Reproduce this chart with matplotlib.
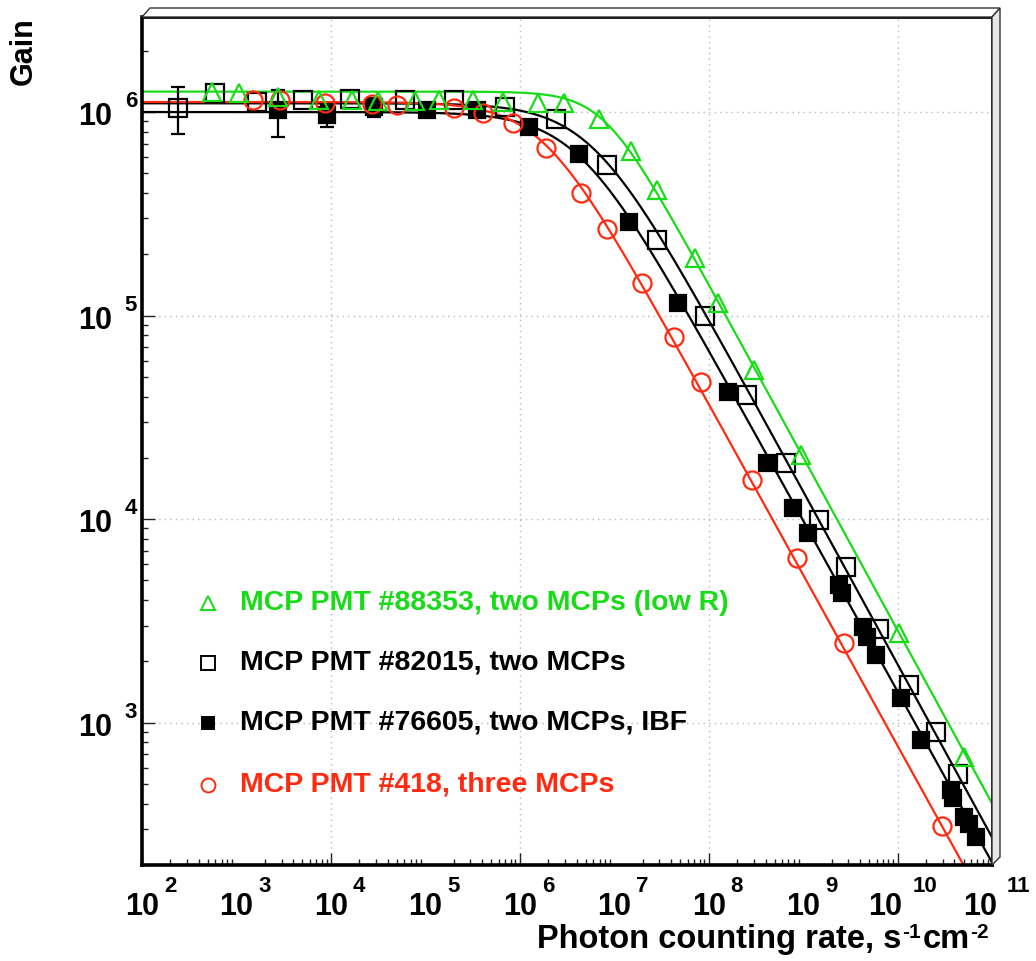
"""
Gain vs photon counting rate for several MCP PMTs, log-log, ROOT-like style.
Saves out.png
"""

import numpy as np
import matplotlib
matplotlib.use("Agg")
import matplotlib.pyplot as plt
from matplotlib.patches import Polygon
from matplotlib.lines import Line2D

plt.rcParams["font.family"] = ["Liberation Sans", "DejaVu Sans"]
plt.rcParams["font.weight"] = "bold"

W, H = 1036, 961

GREEN = "#18dc18"
RED = "#ff2a10"
BLACK = "black"

# ── measured points (rate in s^-1 cm^-2, gain) ───────────────────────────────
green_rate = [552, 1070, 2770, 7500, 1.69e4, 3.19e4, 7.86e4, 1.38e5, 3.16e5,
              6.57e5, 1.55e6, 2.92e6, 6.86e6, 1.50e7, 2.83e7, 7.14e7, 1.25e8,
              3.02e8, 9.5e8, 1.04e10, 5.08e10]
green_gain = [1.25e6, 1.24e6, 1.19e6, 1.15e6, 1.15e6, 1.13e6, 1.13e6, 1.15e6,
              1.15e6, 1.12e6, 1.11e6, 1.11e6, 9.24e5, 6.43e5, 4.14e5, 1.92e5,
              1.15e5, 5.39e4, 2.06e4, 2.75e3, 676]

open_rate = [241, 594, 1660, 5090, 1.61e4, 6.15e4, 1.99e5, 7.06e5, 2.40e6,
             8.32e6, 2.83e7, 9.12e7, 2.54e8, 6.59e8, 1.48e9, 2.85e9, 6.38e9,
             1.33e10, 2.56e10, 4.40e10]
open_gain = [1.05e6, 1.24e6, 1.12e6, 1.15e6, 1.16e6, 1.15e6, 1.15e6, 1.06e6,
             9.24e5, 5.50e5, 2.35e5, 9.95e4, 4.07e4, 1.88e4, 9.88e3, 5.81e3,
             2.88e3, 1.53e3, 898, 558]
open_err = [2.7e5] + [0] * 19

filled_rate = [2770, 9160, 2.88e4, 1.03e5, 3.56e5, 1.24e6, 4.21e6, 1.43e7,
               4.71e7, 1.60e8, 4.14e8, 7.81e8, 1.13e9, 2.40e9, 2.59e9, 4.32e9,
               4.76e9, 5.93e9, 1.09e10, 1.78e10, 3.70e10, 3.89e10, 5.08e10,
               5.74e10, 6.81e10]
filled_gain = [1.02e6, 9.66e5, 1.06e6, 1.02e6, 1.02e6, 8.44e5, 6.22e5, 2.88e5,
               1.15e5, 4.21e4, 1.88e4, 1.13e4, 8.53e3, 4.74e3, 4.33e3, 2.94e3,
               2.63e3, 2.15e3, 1.32e3, 820, 466, 426, 344, 317, 274]
filled_err = [2.7e5, 1.2e5, 1.1e5] + [0] * 22

red_rate = [1500, 2900, 8730, 2.75e4, 5.06e4, 1.99e5, 4.04e5, 8.39e5, 1.88e6,
            4.42e6, 8.32e6, 1.96e7, 4.28e7, 8.27e7, 2.87e8, 8.61e8, 2.71e9,
            2.97e10]
red_gain = [1.15e6, 1.15e6, 1.11e6, 1.09e6, 1.08e6, 1.05e6, 9.9e5, 8.83e5,
            6.65e5, 4.0e5, 2.66e5, 1.44e5, 7.84e4, 4.71e4, 1.56e4, 6.43e3,
            2.46e3, 310]

# fit: G = G0 * (1 + (R/Rc)^a)^(-p/a)
green_fit = [1.26e6, 7.71e6, 0.85, 1.8]
open_fit = [1.104e6, 5.73e6, 0.85, 1.2]
filled_fit = [1.0e6, 4.09e6, 0.84, 1.2]
red_fit = [1.12e6, 1.72e6, 0.84, 1.3]

labels = ["MCP PMT #88353, two MCPs (low R)",
          "MCP PMT #82015, two MCPs",
          "MCP PMT #76605, two MCPs, IBF",
          "MCP PMT #418, three MCPs"]


def fit_curve(r, par):
    g0, rc, p, a = par
    return g0 * (1.0 + (r / rc) ** a) ** (-p / a)


def px(x, y):
    return (x / W, 1 - y / H)


fig = plt.figure(figsize=(W / 100, H / 100), dpi=100, facecolor="white")

# 3D frame border (top + right bevel)
fig.patches.append(Polygon([px(142, 17), px(150, 8), px(1000, 8), px(992, 17)],
                           closed=True, transform=fig.transFigure,
                           facecolor="white", edgecolor="#333333", lw=1.0))
fig.patches.append(Polygon([px(992, 17), px(1000, 8), px(1000, 857), px(992, 865)],
                           closed=True, transform=fig.transFigure,
                           facecolor="#e6e6e6", edgecolor="#333333", lw=1.0))

l, b = px(142, 865)
r, t = px(992, 17)
ax = fig.add_axes([l, b, r - l, t - b])
ax.set_xscale("log")
ax.set_yscale("log")
ax.set_xlim(1e2, 1e11)
ax.set_ylim(200, 2.93e6)

ax.grid(True, which="major", ls=(0, (1, 3)), color="#b8b8b8", lw=1.0)
ax.tick_params(which="both", direction="in", top=False, right=False,
               labelbottom=False, labelleft=False, color="#222222")
ax.tick_params(which="major", length=9, width=1.0)
ax.tick_params(which="minor", length=4.5, width=1.0)
ax.xaxis.set_minor_locator(matplotlib.ticker.LogLocator(base=10, subs=np.arange(2, 10), numticks=20))
ax.yaxis.set_minor_locator(matplotlib.ticker.LogLocator(base=10, subs=np.arange(2, 10), numticks=20))
for side in ["left", "bottom"]:
    ax.spines[side].set_linewidth(2.6)
for side in ["top", "right"]:
    ax.spines[side].set_linewidth(2.0)

# ── fits + points ─────────────────────────────────────────────────────────────
rr = np.logspace(2, 11, 800)
series = [
    (open_rate, open_gain, open_err, open_fit, BLACK, "s", "none", 12.5),
    (filled_rate, filled_gain, filled_err, filled_fit, BLACK, "s", BLACK, 11),
    (red_rate, red_gain, None, red_fit, RED, "o", "none", 13),
    (green_rate, green_gain, None, green_fit, GREEN, "^", "none", 13),
]
for rate, gain, err, par, col, mk, mfc, ms in series:
    ax.plot(rr, fit_curve(rr, par), color=col, lw=1.6, zorder=2)
    if err is not None:
        rate_e = [x for x, e in zip(rate, err) if e > 0]
        gain_e = [g for g, e in zip(gain, err) if e > 0]
        err_e = [e for e in err if e > 0]
        ax.errorbar(rate_e, gain_e, yerr=err_e, fmt="none", ecolor=col,
                    elinewidth=1.6, capsize=5, capthick=1.6, zorder=3)
    ax.plot(rate, gain, ls="none", marker=mk, ms=ms, mfc=mfc, mec=col,
            mew=1.6, zorder=4)

# ── tick labels: ROOT style "10" + raised exponent ───────────────────────────
for e in range(2, 12):
    two = e >= 10
    ax.annotate("10", xy=(10.0 ** e, 0), xycoords=("data", "axes fraction"),
                xytext=(5 if two else 17, -50), textcoords="offset pixels",
                ha="right", va="baseline", fontsize=22)
    ax.annotate(str(e), xy=(10.0 ** e, 0), xycoords=("data", "axes fraction"),
                xytext=(15 if two else 22, -27), textcoords="offset pixels",
                ha="left", va="baseline", fontsize=16)

for e in range(3, 7):
    ax.annotate("10", xy=(0, 10.0 ** e), xycoords=("axes fraction", "data"),
                xytext=(-30, -13), textcoords="offset pixels",
                ha="right", va="baseline", fontsize=22)
    ax.annotate(str(e), xy=(0, 10.0 ** e), xycoords=("axes fraction", "data"),
                xytext=(-5, 5), textcoords="offset pixels",
                ha="right", va="baseline", fontsize=16)

# ── axis titles ───────────────────────────────────────────────────────────────
fig.text(*px(24, 17), "Gain", rotation=90, ha="center", va="top", fontsize=22)

# x title pieces laid out left to right, then right-aligned to the frame edge
title_parts = [("Photon counting rate, s", 23.5, 0),
               ("-1", 15, 10),
               ("cm", 23.5, 0),
               ("-2", 15, 10)]
base_y = 948
renderer = fig.canvas.get_renderer()
pieces, cursor = [], 0.0
for txt, size, rise in title_parts:
    tt = fig.text(0, 0, txt, fontsize=size, ha="left", va="baseline")
    width = tt.get_window_extent(renderer).width
    pieces.append((tt, cursor, rise))
    cursor += width + 1
shift = 990 - cursor
for tt, x0, rise in pieces:
    tt.set_position(px(shift + x0, base_y - rise))

# ── legend ────────────────────────────────────────────────────────────────────
leg_rows = [
    (labels[0], GREEN, "^", "none", 10, 603),
    (labels[1], BLACK, "s", "none", 10, 663),
    (labels[2], BLACK, "s", BLACK, 9, 723),
    (labels[3], RED, "o", "none", 10, 785),
]
for text, col, mk, mfc, ms, ypx in leg_rows:
    fig.lines.append(Line2D([208 / W], [1 - ypx / H], transform=fig.transFigure,
                            ls="none", marker=mk, ms=ms, mfc=mfc, mec=col,
                            mew=1.4))
    fig.text(*px(240, ypx), text, color=col, ha="left", va="center",
             fontsize=20.5)

fig.savefig("out.png", dpi=100, facecolor="white")
